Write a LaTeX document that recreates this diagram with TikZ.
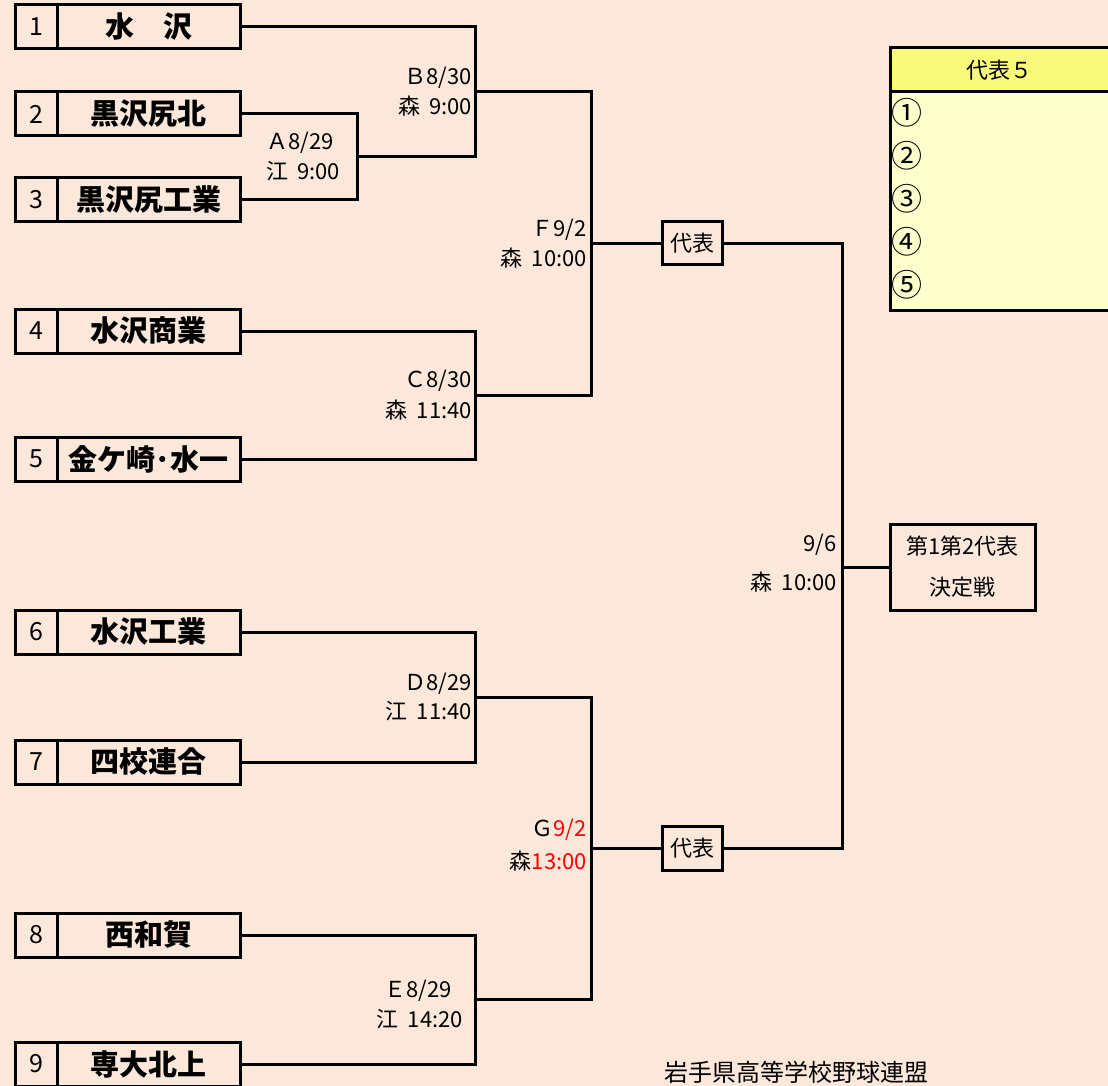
\documentclass[tikz,border=0pt]{standalone}
\usepackage{fontspec}
\setmainfont{Noto Sans CJK JP}
\definecolor{fondo}{RGB}{252,232,218}
\definecolor{amarillo}{RGB}{250,250,122}
\definecolor{crema}{RGB}{255,255,206}

\tikzset{
  numero/.style={draw, line width=3pt, fill=fondo, minimum width=42pt, minimum height=44pt, inner sep=0pt, font=\fontsize{25}{27}\selectfont},
  equipo/.style={draw, line width=3pt, fill=fondo, minimum width=183pt, minimum height=44pt, inner sep=0pt, font=\fontsize{29}{31}\selectfont\bfseries},
  linea/.style={line width=3pt},
  fecha/.style={anchor=east, inner sep=0pt, font=\fontsize{22}{24}\selectfont},
  caja/.style={draw, line width=3pt, fill=fondo, inner sep=0pt, font=\fontsize{22}{24}\selectfont}
}

\begin{document}
\begin{tikzpicture}[x=1pt, y=-1pt]

    % Fondo
    \fill[fondo] (0, 0) rectangle (1108, 1086);
    \useasboundingbox (0, 0) rectangle (1108, 1086);

    % Equipos
    \foreach \i/\y/\nombre in {1/27/水　沢, 2/114/黒沢尻北, 3/200/黒沢尻工業, 4/331/水沢商業, 5/459/金ケ崎･水一, 6/632/水沢工業, 7/762/四校連合, 8/935/西和賀, 9/1064/専大北上} {
      \node[numero] (n\i) at (36, \y) {\i};
      \node[equipo] (t\i) at (148.5, \y) {\nombre};
    }

    % Partidos
    \coordinate (A) at (357, 157);
    \coordinate (B) at (475, 92);
    \coordinate (C) at (475, 395);
    \coordinate (D) at (475, 697);
    \coordinate (E) at (475, 999);
    \coordinate (F) at (591, 243);
    \coordinate (G) at (591, 848);
    \coordinate (H) at (842, 567);

    % Representantes
    \node[caja, minimum width=60pt, minimum height=42pt] (r1) at (692, 243) {代表};
    \node[caja, minimum width=60pt, minimum height=44pt] (r2) at (692, 848) {代表};
    \node[caja, minimum width=145pt, minimum height=86pt, align=center] (fin) at (962.5, 567)
      {第1第2代表\\[17pt]決定戦};

    % Líneas
    \draw[linea] (t2.east) -| (A) |- (t3.east);
    \draw[linea] (t1.east) -| (B) |- (A);
    \draw[linea] (t4.east) -| (C) |- (t5.east);
    \draw[linea] (B) -| (F) |- (C);
    \draw[linea] (F) -- (r1.west);
    \draw[linea] (t6.east) -| (D) |- (t7.east);
    \draw[linea] (t8.east) -| (E) |- (t9.east);
    \draw[linea] (D) -| (G) |- (E);
    \draw[linea] (G) -- (r2.west);
    \draw[linea] (r1.east) -| (H) |- (r2.east);
    \draw[linea] (H) -- (fin.west);

    % Etiquetas
    \node[fecha] (la1) at (334, 143) {Ａ8/29};
    \node[fecha] (la2) at (340, 171) {江\hspace{9pt}9:00};
    \node[fecha] (lb1) at (472, 78) {Ｂ8/30};
    \node[fecha] (lb2) at (472, 106) {森\hspace{9pt}9:00};
    \node[fecha] (lc1) at (472, 381) {Ｃ8/30};
    \node[fecha] (lc2) at (472, 410) {森\hspace{9pt}11:40};
    \node[fecha] (ld1) at (472, 684) {Ｄ8/29};
    \node[fecha] (ld2) at (472, 711) {江\hspace{9pt}11:40};
    \node[fecha] (le1) at (452, 991) {Ｅ8/29};
    \node[fecha] (le2) at (463, 1019) {江\hspace{9pt}14:20};
    \node[fecha] (lf1) at (587, 230) {Ｆ9/2};
    \node[fecha] (lf2) at (587, 258) {森\hspace{9pt}10:00};
    \node[fecha] (lg1) at (587, 830) {Ｇ\textcolor{red}{9/2}};
    \node[fecha] (lg2) at (587, 861) {森\textcolor{red}{13:00}};
    \node[fecha] (lh1) at (837, 545) {9/6};
    \node[fecha] (lh2) at (837, 582) {森\hspace{9pt}10:00};

    % Tabla de representantes
    \fill[crema] (890, 92) rectangle (1112, 310);
    \fill[amarillo] (890, 48) rectangle (1112, 92);
    \draw[linea] (1112, 48) -- (890, 48) -- (890, 310) -- (1112, 310);
    \draw[linea] (890, 92) -- (1112, 92);
    \node[font=\fontsize{22}{24}\selectfont] (cab) at (999, 70) {代表５};
    \foreach \j/\y/\c in {1/113/①, 2/156/②, 3/199/③, 4/242/④, 5/285/⑤}
      \node[anchor=west, inner sep=0pt, font=\fontsize{31}{33}\selectfont] (c\j) at (891, \y) {\c};

    % Pie
    \node[font=\fontsize{24}{26}\selectfont] (pie) at (796, 1072) {岩手県高等学校野球連盟};

\end{tikzpicture}
\end{document}
